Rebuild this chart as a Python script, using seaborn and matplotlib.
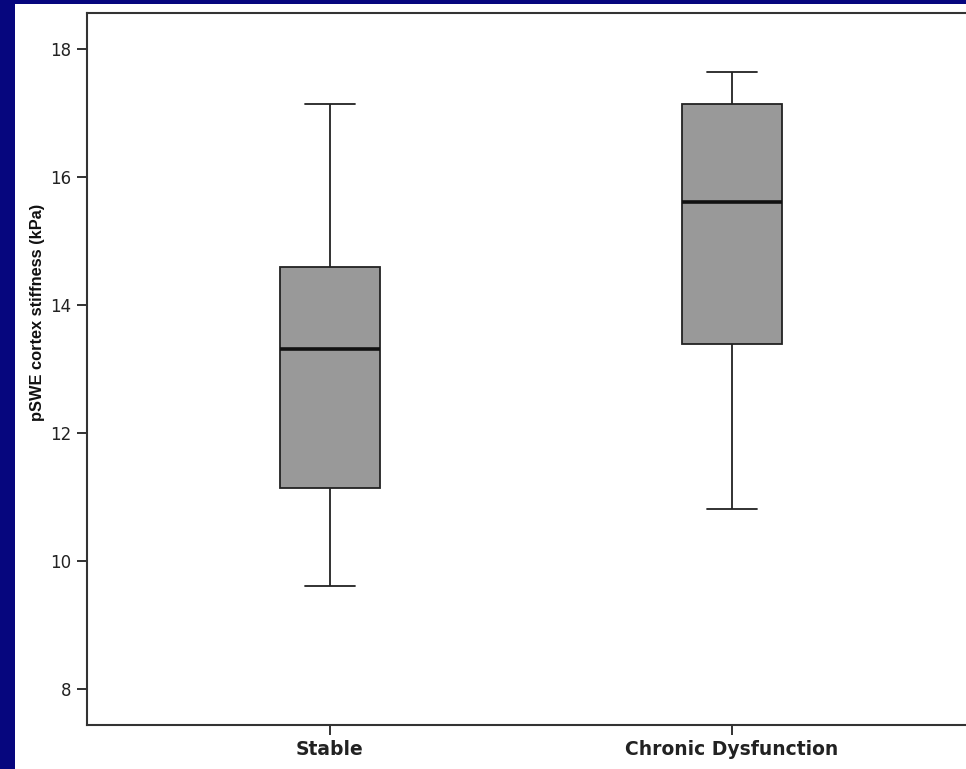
import matplotlib
matplotlib.use("Agg")
import matplotlib.pyplot as plt
import numpy as np
import pandas as pd
import seaborn as sns

# five-number summaries (whisker low, Q1, median, Q3, whisker high)
groups = ["Stable", "Chronic Dysfunction"]
stable = [9.61, 11.14, 13.31, 14.59, 17.14]
chronic = [10.81, 13.39, 15.61, 17.14, 17.64]
yticks = [8, 10, 12, 14, 16, 18]

df = pd.DataFrame({
    "group": [groups[0]] * len(stable) + [groups[1]] * len(chronic),
    "value": stable + chronic,
})

sns.set_style("white")
plt.rcParams["font.family"] = ["DejaVu Sans"]

fig = plt.figure(figsize=(9.66, 7.69), dpi=100, facecolor="#06067e")
# white panel behind the chart
fig.patches.append(plt.Rectangle((15 / 966, 0), 1, 765 / 769,
                                 transform=fig.transFigure, facecolor="white",
                                 edgecolor="none", zorder=-5))

ax = fig.add_axes([87 / 966, 44 / 769, 888 / 966, 712 / 769])
ax.set_facecolor("white")

sns.boxplot(data=df, x="group", y="value", order=groups, whis=np.inf,
            width=0.25, color="#999999", saturation=1, linecolor="#222222",
            linewidth=1.3, ax=ax,
            medianprops={"color": "#111111", "linewidth": 2.6},
            capprops={"color": "#222222", "linewidth": 1.3})

ax.set_xlim(-0.604, 1.604)
ax.set_ylim(7.4375, 18.5625)
ax.set_yticks(yticks)
ax.set_yticklabels([str(t) for t in yticks], fontsize=12, color="#222222")
ax.set_xticks(range(len(groups)))
ax.set_xticklabels(groups, fontsize=13.5, fontweight="bold", color="#222222")
ax.set_xlabel("")
ax.set_ylabel("pSWE cortex stiffness (kPa)", fontsize=11.8, fontweight="bold",
              family=["Liberation Sans", "DejaVu Sans"], color="#111111")
ax.yaxis.set_label_coords(-0.047, 0.58)
ax.tick_params(axis="both", direction="out", length=7, width=1.3, color="#222222",
               left=True, bottom=True, pad=4)

for side in ["left", "bottom", "top"]:
    ax.spines[side].set_visible(True)
    ax.spines[side].set_color("#333333")
    ax.spines[side].set_linewidth(1.5)
ax.spines["right"].set_visible(False)

fig.savefig("out.png", dpi=100, facecolor=fig.get_facecolor())
